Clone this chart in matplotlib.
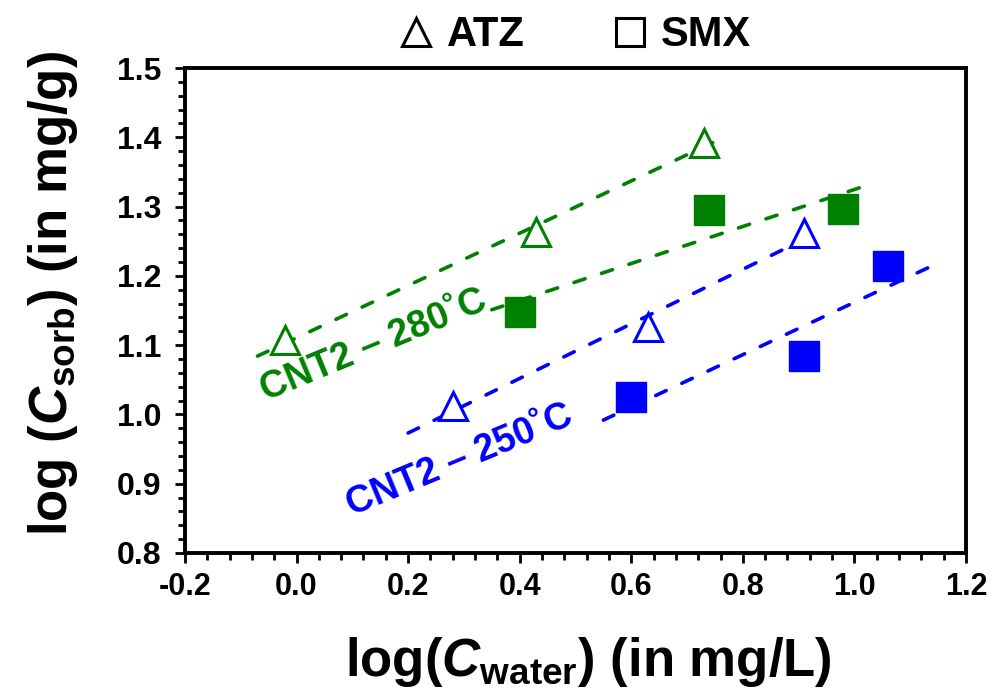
import numpy as np
import matplotlib
matplotlib.use("Agg")
from matplotlib import pyplot as plt
from matplotlib.lines import Line2D
from matplotlib.ticker import MultipleLocator, FormatStrFormatter

# Data: log(C_water) vs log(C_sorb)
atz_280_x = [-0.02, 0.43, 0.73]
atz_280_y = [1.107, 1.263, 1.392]
smx_280_x = [0.40, 0.74, 0.98]
smx_280_y = [1.148, 1.295, 1.296]
atz_250_x = [0.28, 0.63, 0.91]
atz_250_y = [1.012, 1.126, 1.262]
smx_250_x = [0.60, 0.91, 1.06]
smx_250_y = [1.025, 1.084, 1.214]

# x range covered by each dashed trend line
atz_280_fit_range = [-0.07, 0.77]
smx_280_fit_range = [0.35, 1.02]
atz_250_fit_range = [0.20, 0.94]
smx_250_fit_range = [0.55, 1.15]

GREEN = "#008000"
BLUE = "#0000FF"

plt.rcParams['font.family'] = ['Liberation Sans', 'DejaVu Sans']
plt.rcParams['font.weight'] = 'bold'
plt.rcParams['mathtext.fontset'] = 'custom'
plt.rcParams['mathtext.rm'] = 'Liberation Sans:bold'
plt.rcParams['mathtext.it'] = 'Liberation Sans:italic:bold'
plt.rcParams['mathtext.bf'] = 'Liberation Sans:bold'

fig = plt.figure(figsize=(9.94, 6.92), dpi=100)
ax = fig.add_axes([0.1861, 0.2009, 0.7857, 0.7008])


def trend(xs, ys, xr, color):
    k, b = np.polyfit(xs, ys, 1)
    xx = np.array(xr)
    ax.plot(xx, k * xx + b, color=color, lw=2.6, dashes=(3.2, 4.8),
            dash_capstyle='round', zorder=2)


trend(atz_280_x, atz_280_y, atz_280_fit_range, GREEN)
trend(smx_280_x, smx_280_y, smx_280_fit_range, GREEN)
trend(atz_250_x, atz_250_y, atz_250_fit_range, BLUE)
trend(smx_250_x, smx_250_y, smx_250_fit_range, BLUE)

tri = dict(marker='^', ms=20, mew=2.2, mfc='white', ls='none', zorder=3)
sq = dict(marker='s', ms=22, mew=1, ls='none', zorder=3)
ax.plot(atz_280_x, atz_280_y, mec=GREEN, **tri)
ax.plot(smx_280_x, smx_280_y, mec=GREEN, mfc=GREEN, **sq)
ax.plot(atz_250_x, atz_250_y, mec=BLUE, **tri)
ax.plot(smx_250_x, smx_250_y, mec=BLUE, mfc=BLUE, **sq)

ax.text(0.139, 1.100, "CNT2 \u2013 280\u02daC", color=GREEN, fontsize=27,
        fontweight='bold', rotation=22.5, ha='center', va='center',
        rotation_mode='anchor')
ax.text(0.293, 0.934, "CNT2 \u2013 250\u02daC", color=BLUE, fontsize=27,
        fontweight='bold', rotation=22.5, ha='center', va='center',
        rotation_mode='anchor')

ax.set_xlim(-0.2, 1.2)
ax.set_ylim(0.8, 1.5)
ax.xaxis.set_major_locator(MultipleLocator(0.2))
ax.xaxis.set_minor_locator(MultipleLocator(0.04))
ax.yaxis.set_major_locator(MultipleLocator(0.1))
ax.yaxis.set_minor_locator(MultipleLocator(0.02))
ax.xaxis.set_major_formatter(FormatStrFormatter('%.1f'))
ax.yaxis.set_major_formatter(FormatStrFormatter('%.1f'))
ax.tick_params(which='major', direction='out', length=7, width=2,
               labelsize=22, pad=7)
ax.tick_params(which='minor', direction='out', length=5, width=2)
ax.tick_params(axis='y', which='major', labelsize=23, pad=10)
ax.tick_params(top=False, right=False)
for sp in ax.spines.values():
    sp.set_linewidth(2.8)

ax.set_xlabel(r"log($C_{\mathrm{water}}$) (in mg/L)", fontsize=38,
              fontweight='bold')
ax.set_ylabel(r"log ($C_{\mathrm{sorb}}$) (in mg/g)", fontsize=38,
              fontweight='bold')
ax.xaxis.set_label_coords(0.517, -0.17)
ax.yaxis.set_label_coords(-0.134, 0.536)

handles = [
    Line2D([], [], marker='^', ms=20, mew=2.2, mfc='none', mec='black', ls='none'),
    Line2D([], [], marker='s', ms=20, mew=2.2, mfc='none', mec='black', ls='none'),
]
ax.legend(handles, ["ATZ", "SMX"], loc='lower center',
          bbox_to_anchor=(0.497, 0.983), ncol=2, frameon=False,
          prop={'size': 30, 'weight': 'bold'}, handletextpad=0.25,
          columnspacing=2.0, borderaxespad=0.1, handlelength=1.0)

fig.savefig("out.png", dpi=100)
